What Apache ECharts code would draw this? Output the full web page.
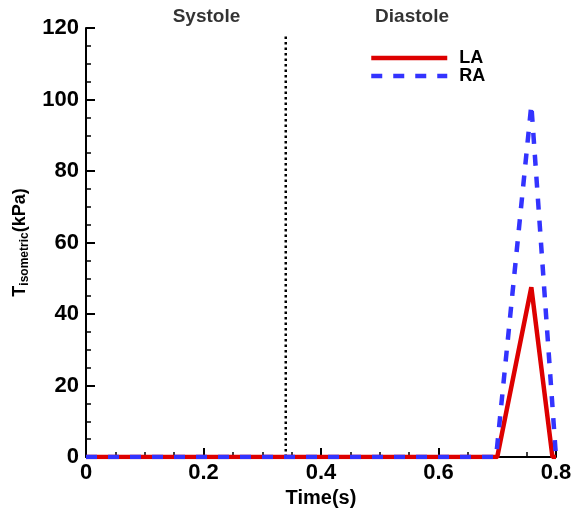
<!DOCTYPE html>
<html>
<head>
<meta charset="utf-8">
<script src="https://cdn.jsdelivr.net/npm/echarts@6/dist/echarts.min.js"></script>
<style>
  html, body { margin: 0; padding: 0; background: #fff; }
  #chart { width: 571px; height: 508px; }
</style>
</head>
<body>
<div id="chart"></div>
<script>
// Isometric tension in the left and right atria over one cardiac cycle
const laTime = [0, 0.70, 0.758, 0.794, 0.8];
const laTension = [0, 0, 47.5, 0, 0];
const raTime = [0, 0.698, 0.758, 0.8];
const raTension = [0, 0, 98.5, 0];

// boundary between systole and diastole
const phaseBoundary = 0.34;
const boundaryTop = 118;
const phaseLabels = ['Systole', 'Diastole'];
const phaseLabelX = [0.205, 0.555];

const font = '"Liberation Sans", Arial, Helvetica, sans-serif';

function pairs(xs, ys) { return xs.map((x, i) => [x, ys[i]]); }

const chart = echarts.init(document.getElementById('chart'));
chart.setOption({
  animation: false,
  grid: { left: 86, right: 15, top: 28, bottom: 51, containLabel: false, outerBoundsMode: 'none' },
  legend: {
    orient: 'vertical',
    left: 364,
    top: 44,
    itemWidth: 76,
    itemHeight: 10,
    itemGap: 0,
    data: ['LA', 'RA'],
    itemStyle: { opacity: 0 },
    lineStyle: { width: 4.5 },
    textStyle: { fontFamily: font, fontWeight: 'bold', fontSize: 18, lineHeight: 17, color: '#000', padding: [0, 0, 0, 7] }
  },
  xAxis: {
    type: 'value',
    min: 0, max: 0.8, interval: 0.2,
    name: 'Time(s)',
    nameLocation: 'middle',
    nameGap: 27,
    nameTextStyle: { fontFamily: font, fontWeight: 'bold', fontSize: 20, color: '#000' },
    axisLine: { show: true, lineStyle: { color: '#000', width: 2 } },
    axisTick: { inside: true, length: 9, lineStyle: { color: '#000', width: 2 } },
    minorTick: { show: true, splitNumber: 4, length: 5, lineStyle: { color: '#000', width: 1.5 } },
    splitLine: { show: false },
    axisLabel: {
      margin: 5,
      fontFamily: font, fontWeight: 'bold', fontSize: 22, color: '#000',
      formatter: v => (Math.round(v * 10) / 10).toString()
    }
  },
  yAxis: {
    type: 'value',
    min: 0, max: 120, interval: 20,
    name: '{t|T}{s|isometric}{t|(kPa)}',
    nameLocation: 'middle',
    nameGap: 55,
    nameMoveOverlap: false,
    nameTextStyle: {
      rich: {
        t: { fontFamily: font, fontWeight: 'bold', fontSize: 18, color: '#000' },
        s: { fontFamily: font, fontWeight: 'bold', fontSize: 12, color: '#000', padding: [10, 0, 0, 0] }
      }
    },
    axisLine: { show: true, lineStyle: { color: '#000', width: 2 } },
    axisTick: { inside: true, length: 9, lineStyle: { color: '#000', width: 2 } },
    minorTick: { show: true, splitNumber: 4, length: 5, lineStyle: { color: '#000', width: 1.5 } },
    splitLine: { show: false },
    axisLabel: { margin: 7, fontFamily: font, fontWeight: 'bold', fontSize: 22, color: '#000' }
  },
  series: [
    {
      name: 'LA',
      type: 'line',
      data: pairs(laTime, laTension),
      symbol: 'none',
      lineStyle: { color: '#dd0000', width: 4.5 },
      itemStyle: { color: '#dd0000' },
      z: 3
    },
    {
      name: 'RA',
      type: 'line',
      data: pairs(raTime, raTension),
      symbol: 'none',
      lineStyle: { color: '#3333ff', width: 4.5, type: [11, 11] },
      itemStyle: { color: '#3333ff' },
      z: 4
    },
    {
      name: 'boundary',
      type: 'line',
      data: [[phaseBoundary, 0], [phaseBoundary, boundaryTop]],
      symbol: 'none',
      lineStyle: { color: '#000', width: 2.5, type: [2.5, 3] },
      z: 2
    },
    {
      name: 'phases',
      type: 'scatter',
      data: phaseLabels.map((t, i) => [phaseLabelX[i], 120]),
      symbolSize: 0,
      label: {
        show: true,
        position: 'top',
        distance: 2,
        formatter: p => phaseLabels[p.dataIndex],
        fontFamily: font, fontWeight: 'bold', fontSize: 19, color: '#000'
      },
      z: 5
    }
  ]
});
</script>
</body>
</html>
